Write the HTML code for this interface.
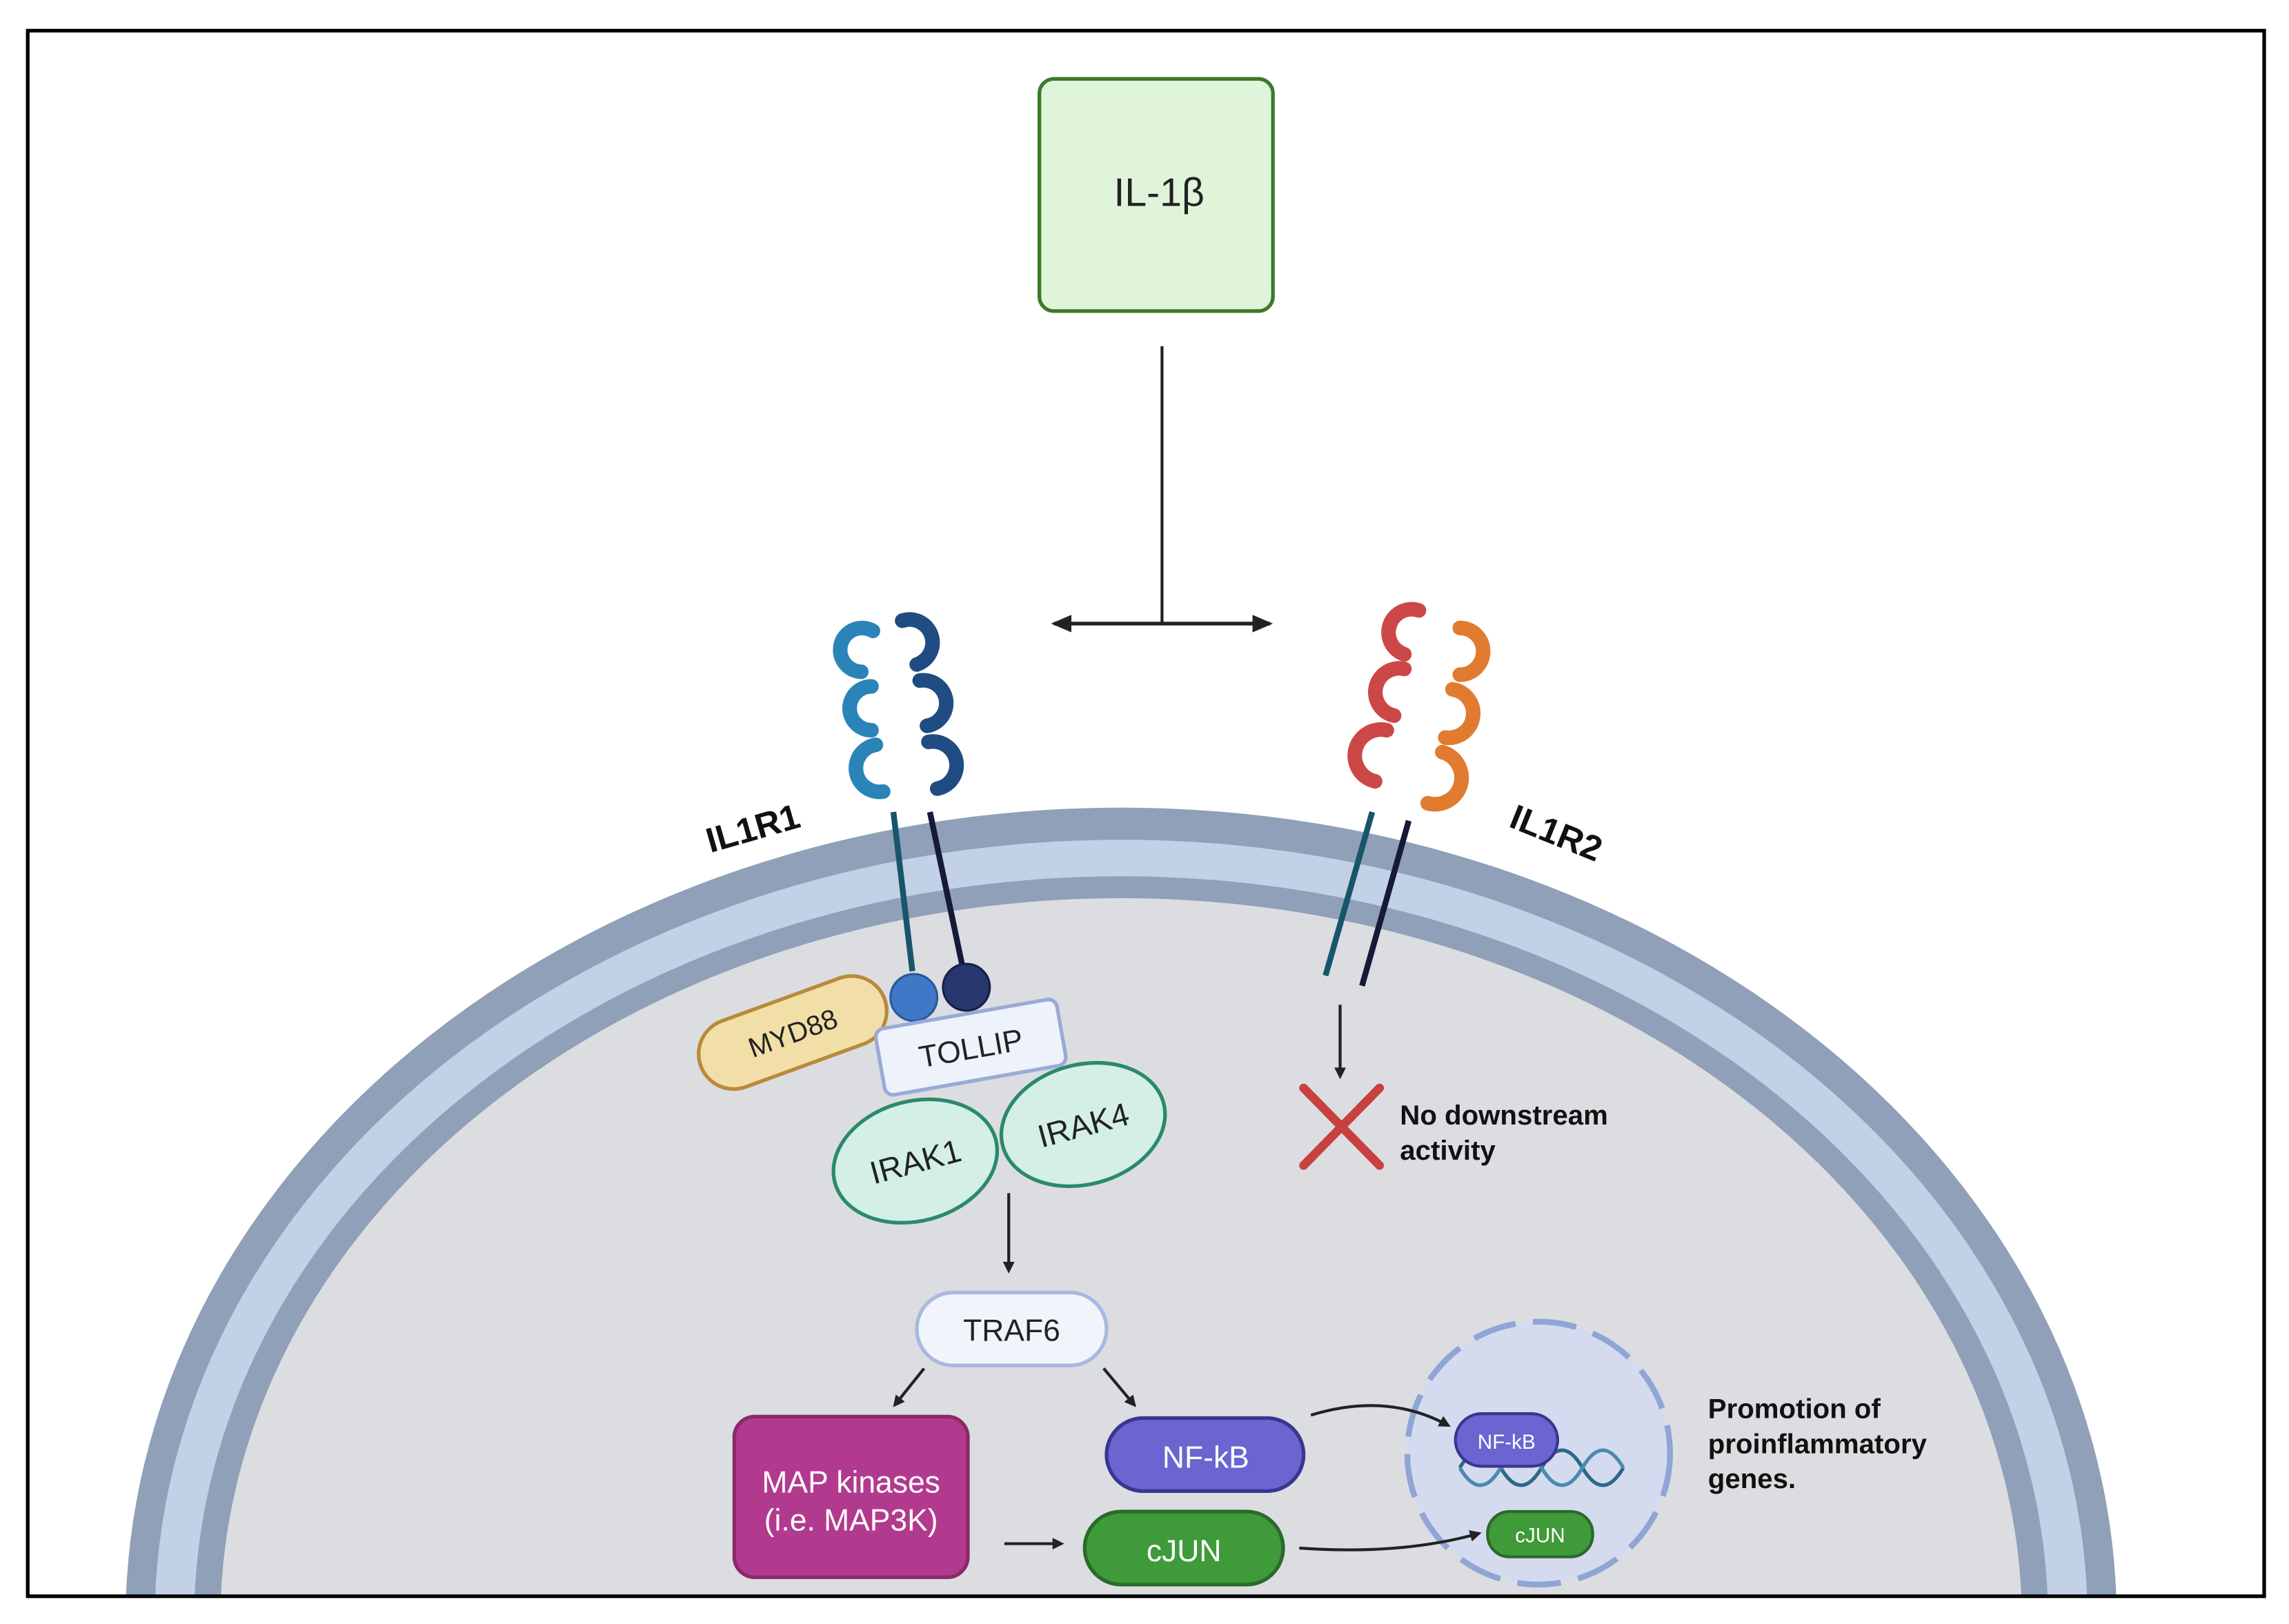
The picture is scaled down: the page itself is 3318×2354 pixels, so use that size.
<!DOCTYPE html>
<html><head><meta charset="utf-8"><style>
html,body{margin:0;padding:0;background:#fff;width:3318px;height:2354px;overflow:hidden}
svg{display:block}
text{font-family:"Liberation Sans",sans-serif}
</style></head><body>
<svg width="3318" height="2354" viewBox="0 0 1568 1112" preserveAspectRatio="none" xmlns="http://www.w3.org/2000/svg">
<defs>
<clipPath id="c"><rect x="19" y="21" width="1532" height="1072"/></clipPath>
<marker id="a" markerWidth="8" markerHeight="8" refX="6" refY="4" orient="auto" markerUnits="userSpaceOnUse"><path d="M0,0 L8,4 L0,8 Z" fill="#222"/></marker>
<marker id="a2" markerWidth="14" markerHeight="14" refX="12" refY="7" orient="auto-start-reverse" markerUnits="userSpaceOnUse"><path d="M0,1 L14,7 L0,13 Z" fill="#222"/></marker>
</defs>
<rect width="1568" height="1112" fill="#fff"/>
<g clip-path="url(#c)">
<ellipse cx="768" cy="1110" rx="682" ry="557" fill="#8fa0b8"/>
<ellipse cx="768" cy="1110" rx="662" ry="535" fill="#c3d1e6"/>
<ellipse cx="768" cy="1110" rx="635" ry="510" fill="#8fa0b8"/>
<ellipse cx="768" cy="1110" rx="617" ry="495" fill="#dcdde1"/>
</g>
<rect x="19" y="21" width="1532" height="1072" fill="none" stroke="#000" stroke-width="2.5"/>

<rect x="712" y="54" width="160" height="159" rx="10" fill="#e0f4da" stroke="#3a7a2a" stroke-width="2.5"/>
<text x="794" y="141" font-size="27" text-anchor="middle" fill="#222">IL-1β</text>
<line x1="796" y1="237" x2="796" y2="427" stroke="#222" stroke-width="2"/>
<line x1="722" y1="427" x2="870" y2="427" stroke="#222" stroke-width="2.5" marker-start="url(#a2)" marker-end="url(#a2)"/>

<g fill="none" stroke-width="10" stroke-linecap="round">
<g stroke="#2a84b8">
<path d="M598,432 A15,15 0 1 0 590,460"/>
<path d="M597,470 A15,15 0 1 0 597,500"/>
<path d="M600,510 A15,15 0 1 0 605,542"/>
</g>
<g stroke="#1f4c82">
<path d="M618,425 A15,15 0 1 1 628,455"/>
<path d="M630,466 A15,15 0 1 1 635,497"/>
<path d="M636,508 A15,15 0 1 1 642,540"/>
</g>
<g stroke="#cc4848">
<path d="M972,418 A15,15 0 1 0 962,448"/>
<path d="M962,458 A15,15 0 1 0 955,490"/>
<path d="M950,500 A15,15 0 1 0 942,535"/>
</g>
<g stroke="#e07b30">
<path d="M1000,430 A15,15 0 1 1 1000,462"/>
<path d="M995,472 A15,15 0 1 1 990,505"/>
<path d="M988,515 A15,15 0 1 1 978,550"/>
</g>
</g>
<line x1="612" y1="556" x2="625" y2="665" stroke="#17566a" stroke-width="4"/>
<line x1="637" y1="556" x2="660" y2="665" stroke="#141a38" stroke-width="4"/>
<line x1="940" y1="556" x2="908" y2="668" stroke="#17566a" stroke-width="4"/>
<line x1="965" y1="562" x2="933" y2="675" stroke="#141a38" stroke-width="4"/>
<text transform="translate(518,575) rotate(-16)" font-size="24" font-weight="bold" text-anchor="middle" fill="#111">IL1R1</text>
<text transform="translate(1063,578) rotate(22)" font-size="24" font-weight="bold" text-anchor="middle" fill="#111">IL1R2</text>

<g transform="translate(543,707) rotate(-20)"><rect x="-67" y="-24" width="134" height="48" rx="24" fill="#f2dfa8" stroke="#b88a3a" stroke-width="2.5"/><text y="7" font-size="19" text-anchor="middle" fill="#222">MYD88</text></g>
<circle cx="626" cy="683" r="16" fill="#3f78c6" stroke="#2a5a9a" stroke-width="1.5"/>
<circle cx="662" cy="676" r="16" fill="#26386e" stroke="#16204a" stroke-width="1.5"/>
<g transform="translate(665,717) rotate(-10)"><rect x="-63" y="-23" width="126" height="46" rx="6" fill="#eef2fb" stroke="#9aaad6" stroke-width="2.5"/><text y="8" font-size="21" text-anchor="middle" fill="#222">TOLLIP</text></g>
<g transform="translate(627,795) rotate(-15)"><ellipse rx="57" ry="41" fill="#d4eee8" stroke="#2a8a6a" stroke-width="2.5"/><text y="8" font-size="22" text-anchor="middle" fill="#222">IRAK1</text></g>
<g transform="translate(742,770) rotate(-15)"><ellipse rx="57" ry="41" fill="#d4eee8" stroke="#2a8a6a" stroke-width="2.5"/><text y="8" font-size="22" text-anchor="middle" fill="#222">IRAK4</text></g>
<line x1="691" y1="817" x2="691" y2="870" stroke="#222" stroke-width="2" marker-end="url(#a)"/>

<rect x="628" y="885" width="130" height="50" rx="25" fill="#f1f4fb" stroke="#a8b8e0" stroke-width="2.5"/>
<text x="693" y="918" font-size="21" text-anchor="middle" fill="#222">TRAF6</text>
<line x1="633" y1="937" x2="613" y2="962" stroke="#222" stroke-width="2" marker-end="url(#a)"/>
<line x1="756" y1="937" x2="777" y2="962" stroke="#222" stroke-width="2" marker-end="url(#a)"/>

<rect x="503" y="970" width="160" height="110" rx="14" fill="#b23a8e" stroke="#8a2a6a" stroke-width="2.5"/>
<text x="583" y="1022" font-size="21" text-anchor="middle" fill="#fff">MAP kinases</text>
<text x="583" y="1048" font-size="21" text-anchor="middle" fill="#fff">(i.e. MAP3K)</text>
<rect x="758" y="971" width="135" height="50" rx="25" fill="#6a65d0" stroke="#3a3590" stroke-width="2.5"/>
<text x="826" y="1005" font-size="21" text-anchor="middle" fill="#fff">NF-kB</text>
<rect x="743" y="1035" width="136" height="50" rx="25" fill="#3f9a3a" stroke="#2a6a2a" stroke-width="2.5"/>
<text x="811" y="1069" font-size="21" text-anchor="middle" fill="#fff">cJUN</text>
<line x1="688" y1="1057" x2="727" y2="1057" stroke="#222" stroke-width="2" marker-end="url(#a)"/>

<circle cx="1054" cy="995" r="90" fill="#d5dbef" stroke="#8fa5d5" stroke-width="4" stroke-dasharray="30,12"/>
<g fill="none" stroke-width="2.5">
<path d="M1000,1005 q14,-24 28,0 q14,24 28,0 q14,-24 28,0 q14,24 28,0" stroke="#2a6a8a"/>
<path d="M1000,1005 q14,24 28,0 q14,-24 28,0 q14,24 28,0 q14,-24 28,0" stroke="#4a8ab0"/>
</g>
<rect x="997" y="968" width="70" height="36" rx="18" fill="#6a65d0" stroke="#3a3590" stroke-width="2"/>
<text x="1032" y="992" font-size="14" text-anchor="middle" fill="#fff">NF-kB</text>
<rect x="1019" y="1035" width="72" height="31" rx="15" fill="#3f9a3a" stroke="#2a6a2a" stroke-width="2"/>
<text x="1055" y="1056" font-size="14" text-anchor="middle" fill="#fff">cJUN</text>
<path d="M898,969 Q950,953 992,976" fill="none" stroke="#222" stroke-width="2" marker-end="url(#a)"/>
<path d="M890,1060 Q960,1065 1013,1050" fill="none" stroke="#222" stroke-width="2" marker-end="url(#a)"/>
<g font-size="19" font-weight="bold" fill="#111">
<text x="1170" y="971">Promotion of</text>
<text x="1170" y="995">proinflammatory</text>
<text x="1170" y="1019">genes.</text>
<text x="959" y="770">No downstream</text>
<text x="959" y="794">activity</text>
</g>
<line x1="918" y1="688" x2="918" y2="737" stroke="#222" stroke-width="2" marker-end="url(#a)"/>
<g stroke="#c84040" stroke-width="6" stroke-linecap="round"><line x1="893" y1="745" x2="945" y2="798"/><line x1="945" y1="745" x2="893" y2="798"/></g>
</svg>
</body></html>
